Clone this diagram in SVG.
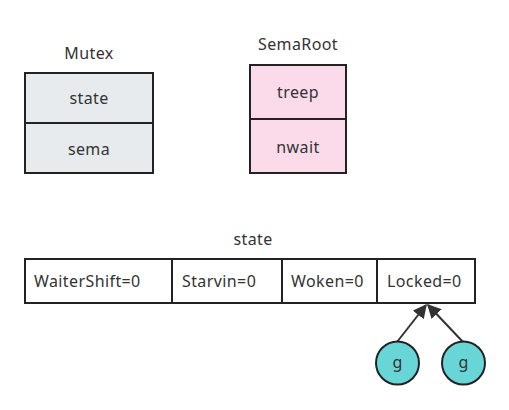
<svg xmlns="http://www.w3.org/2000/svg" width="509" height="410" viewBox="0 0 509 410">
<defs>
<style>
text{font-family:"Noto Sans","Open Sans","Liberation Sans",sans-serif;font-size:16px;letter-spacing:0.4px;fill:#333}
.c{text-anchor:middle}
.box{stroke:#222;stroke-width:2}
.m{fill:#e7ebee}
.s{fill:#fbdbe9}
.w{fill:#fff}
.g{fill:#68d5d6;stroke:#222;stroke-width:2}
.ln{stroke:#333;stroke-width:2;fill:none}
</style>
<marker id="ah" viewBox="0 0 10 10" refX="9" refY="5" markerWidth="7" markerHeight="7" orient="auto" markerUnits="strokeWidth">
<path d="M0,0 L10,5 L0,10 z" fill="#333"/>
</marker>
</defs>
<rect width="509" height="410" fill="#fff"/>
<g id="mutex">
<text class="c" x="89" y="59">Mutex</text>
<rect class="box m" x="25" y="73" width="128" height="50"/>
<rect class="box m" x="25" y="123" width="128" height="50"/>
<text class="c" x="89" y="104">state</text>
<text class="c" x="89" y="155">sema</text>
</g>
<g id="semaroot">
<text class="c" x="298" y="50">SemaRoot</text>
<rect class="box s" x="250" y="65" width="96" height="54"/>
<rect class="box s" x="250" y="119" width="96" height="54"/>
<text class="c" x="298" y="98">treep</text>
<text class="c" x="298" y="153">nwait</text>
</g>
<g id="state">
<text class="c" x="253" y="245">state</text>
<rect class="box w" x="25" y="259" width="147" height="44"/>
<rect class="box w" x="172" y="259" width="110" height="44"/>
<rect class="box w" x="282" y="259" width="95" height="44"/>
<rect class="box w" x="377" y="259" width="98" height="44"/>
<text x="34" y="287">WaiterShift=0</text>
<text x="182" y="287">Starvin=0</text>
<text x="291" y="287">Woken=0</text>
<text x="387" y="287">Locked=0</text>
</g>
<g id="connectors">
<line class="ln" x1="397" y1="342" x2="426" y2="305" marker-end="url(#ah)"/>
<line class="ln" x1="463" y1="342" x2="428" y2="305" marker-end="url(#ah)"/>
</g>
<g id="g1">
<circle class="g" cx="397.5" cy="363" r="21.5"/>
<text class="c" x="397.5" y="368">g</text>
</g>
<g id="g2">
<circle class="g" cx="463.5" cy="363" r="21.5"/>
<text class="c" x="463.5" y="368">g</text>
</g>
</svg>
